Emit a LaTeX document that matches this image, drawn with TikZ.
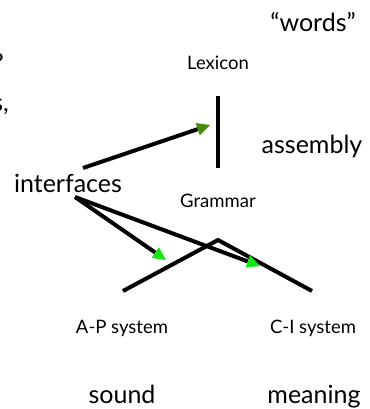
\documentclass[tikz,border=0pt]{standalone}
\usepackage{fontspec}
\setmainfont{Lato}
\usetikzlibrary{arrows.meta,positioning}
\definecolor{olivetip}{RGB}{74,140,10}
\definecolor{brighttip}{RGB}{20,230,20}

\begin{document}
\begin{tikzpicture}[
    x=1pt, y=-1pt,
    big/.style={font=\fontsize{25}{30}\selectfont, inner sep=0pt, anchor=base},
    small/.style={font=\fontsize{18.5}{22}\selectfont, inner sep=0pt, anchor=base},
    bar/.style={line width=4pt},
    link/.style={line width=4pt,
        -{Triangle[length=13pt, width=13pt, line width=0pt, color=#1]}}
]
\useasboundingbox (0,0) rectangle (369,409);

% cut-off text at the left edge
\begin{scope}
\clip (0,0) rectangle (369,409);
\node[big, anchor=base east] (fragq) at (4,72) {?};
\node[big, anchor=base east] (frags) at (9,112) {s,};
\end{scope}

\node[big] (words) at (313,32) {``words''};
\node[small] (lexicon) at (218,70) {Lexicon};
\node[big] (assembly) at (312,153) {assembly};
\node[big] (interfaces) at (68,192) {interfaces};
\node[small] (grammar) at (218,207) {Grammar};
\node[small] (apsys) at (122,333) {A-P system};
\node[small] (cisys) at (313,333) {C-I system};
\node[big] (sound) at (122,403) {sound};
\node[big] (meaning) at (314,403) {meaning};

% derivation
\coordinate (lexbot) at (218,96);
\coordinate (grambot) at (218,168);
\coordinate (spell) at (218,240);
\coordinate (apend) at (123,291);
\coordinate (ciend) at (312,291);
\draw[bar] (lexbot) -- (grambot);
\draw[bar, line join=bevel] (apend) -- (spell) -- (ciend);

% interface arrows
\coordinate (ifup) at (83,168);
\coordinate (iflow) at (75,197);
\coordinate (lexhit) at (210,125);
\coordinate (aphit) at (166,260);
\coordinate (cihit) at (260,266);
\draw[link=olivetip] (ifup) -- (lexhit);
\draw[link=brighttip] (iflow) -- (aphit);
\draw[link=brighttip] (iflow) -- (cihit);

\end{tikzpicture}
\end{document}
